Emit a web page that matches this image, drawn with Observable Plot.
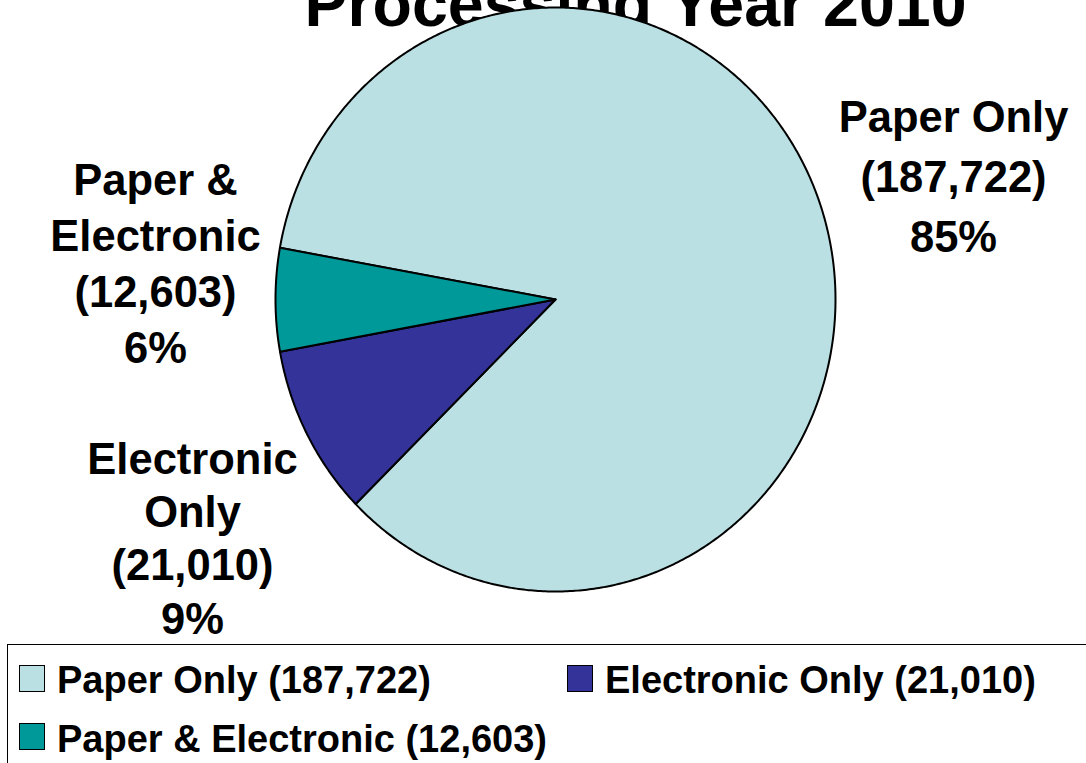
<!DOCTYPE html>
<html>
<head>
<meta charset="utf-8">
<script src="https://cdn.jsdelivr.net/npm/d3@7"></script>
<script src="https://cdn.jsdelivr.net/npm/@observablehq/plot@0.6"></script>
<style>
  html, body { margin: 0; padding: 0; background: #fff; overflow: hidden; width: 1086px; height: 763px; }
  #chart { position: relative; width: 1086px; height: 763px; overflow: hidden; }
  #chart svg { position: absolute; left: 0; top: 0; overflow: visible; }
  .lgbox { position: absolute; left: 7px; top: 644px; width: 1200px; height: 200px; border: 1.5px solid #000; box-sizing: border-box; }
  .sw { position: absolute; width: 26px; height: 27px; border: 1.5px solid #000; box-sizing: border-box; }
  .lt { position: absolute; font-family: "Liberation Sans", Arial, sans-serif; font-weight: bold; font-size: 38px; line-height: 38px; white-space: nowrap; color: #000; }
</style>
</head>
<body>
<div id="chart"></div>
<script>
// ---- data ----
const categories = ["Paper Only", "Electronic Only", "Paper & Electronic"];
const counts = [187722, 21010, 12603];
const colors = ["#BAE0E3", "#333399", "#009999"];
const titleText = "Processing Year 2010";
// legend order (as in the reference)
const legendOrder = ["Paper Only", "Electronic Only", "Paper & Electronic"];

// ---- layout (pixels) ----
const W = 1086, H = 644;
const CX = 555, CY = 299, RX = 280, RY = 292;
const START_DEG = 280.2; // first slice angle, clockwise from 12 o'clock
const FONT = "Liberation Sans, Arial, sans-serif";
const LABEL_FS = 43.5;
const labelLayout = {
  "Paper Only":         {x: 953, baseline: 132, step: 60, lines: d => [d.cat, `(${d.countText})`, d.pct]},
  "Paper & Electronic": {x: 155, baseline: 195, step: 56, lines: d => ["Paper &", "Electronic", `(${d.countText})`, d.pct]},
  "Electronic Only":    {x: 192, baseline: 473, step: 53.5, lines: d => ["Electronic", "Only", `(${d.countText})`, d.pct]}
};
const titleLayout = {x: 635, baseline: 25, fs: 64.5};
const legendLayout = [
  {col: 19, text: 57, row: 665, base: 693},
  {col: 567, text: 605, row: 665, base: 693},
  {col: 19, text: 57, row: 723, base: 752}
];

const total = d3.sum(counts);
const fmt = d3.format(",");
const data = categories.map((cat, i) => ({
  cat, count: counts[i], color: colors[i],
  countText: fmt(counts[i]),
  pct: Math.round(counts[i] / total * 100) + "%"
}));

const toX = px => (px - CX) / RX;
const toY = py => (CY - py) / RY;

// pie geometry from values
const start = START_DEG * Math.PI / 180;
const arcs = d3.pie().sort(null).value(d => d.count).startAngle(start).endAngle(start + 2 * Math.PI)(data);
const pts = arcs.flatMap(a => {
  const n = Math.max(4, Math.ceil((a.endAngle - a.startAngle) / (Math.PI / 360)));
  const arr = [{cat: a.data.cat, x: 0, y: 0}];
  for (let i = 0; i <= n; i++) {
    const t = a.startAngle + (a.endAngle - a.startAngle) * i / n;
    arr.push({cat: a.data.cat, x: Math.sin(t), y: Math.cos(t)});
  }
  arr.push({cat: a.data.cat, x: 0, y: 0});
  return arr;
});

const labelMarks = data.map(d => {
  const L = labelLayout[d.cat];
  const lh = L.step / LABEL_FS;
  const posPx = L.baseline - 0.71 * lh * LABEL_FS;
  return Plot.text([d], {
    x: () => toX(L.x), y: () => toY(posPx),
    text: dd => L.lines(dd).join("\n"),
    lineAnchor: "top", lineHeight: lh, textAnchor: "middle",
    fontSize: LABEL_FS, fontWeight: "bold", fill: "#000", fontFamily: FONT
  });
});

const chart = Plot.plot({
  width: W, height: H,
  marginLeft: CX - RX, marginRight: W - (CX + RX),
  marginTop: CY - RY, marginBottom: H - (CY + RY),
  x: {domain: [-1, 1], axis: null},
  y: {domain: [-1, 1], axis: null},
  color: {domain: categories, range: colors},
  style: {fontFamily: FONT, background: "transparent", overflow: "visible"},
  marks: [
    Plot.text([titleText], {
      x: () => toX(titleLayout.x), y: () => toY(titleLayout.baseline),
      text: d => d, lineAnchor: "bottom", textAnchor: "middle",
      fontSize: titleLayout.fs, fontWeight: "bold", fill: "#000", fontFamily: FONT
    }),
    Plot.line(pts, {x: "x", y: "y", z: "cat", fill: "cat", stroke: "#000", strokeWidth: 2, curve: "linear", strokeLinejoin: "round"}),
    ...labelMarks
  ]
});

const root = document.getElementById("chart");
root.appendChild(chart);

// legend (HTML, below the plot)
const box = document.createElement("div");
box.className = "lgbox";
root.appendChild(box);
legendOrder.forEach((cat, i) => {
  const d = data.find(e => e.cat === cat);
  const L = legendLayout[i];
  const sw = document.createElement("div");
  sw.className = "sw";
  sw.style.left = L.col + "px";
  sw.style.top = L.row + "px";
  sw.style.background = d.color;
  root.appendChild(sw);
  const t = document.createElement("div");
  t.className = "lt";
  t.style.left = L.text + "px";
  t.style.top = (L.base - 0.8465 * 38) + "px";
  t.textContent = `${d.cat} (${d.countText})`;
  root.appendChild(t);
});
</script>
</body>
</html>
